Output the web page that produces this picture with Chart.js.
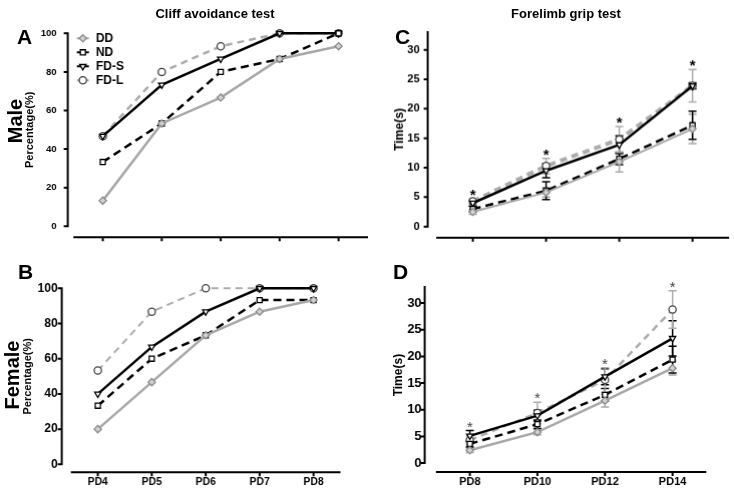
<!DOCTYPE html>
<html>
<head>
<meta charset="utf-8">
<script src="https://cdn.jsdelivr.net/npm/chart.js@4.4.0/dist/chart.umd.min.js"></script>
<style>
  body { margin: 0; background: #fff; font-family: "Liberation Sans", Arial, sans-serif; }
  #wrap { position: relative; width: 734px; height: 493px; overflow: hidden; }
  .box { position: absolute; }
  .t { position: absolute; font-weight: bold; color: #000; white-space: nowrap; }
  .rot { transform: translate(-50%, -50%) rotate(-90deg); }
  .mid { transform: translate(-50%, -50%); }
</style>
</head>
<body>
<div id="wrap">
  <div class="box" style="left:0;top:20px;width:370px;height:225px"><canvas id="cA"></canvas></div>
  <div class="box" style="left:0;top:245px;width:370px;height:248px"><canvas id="cB"></canvas></div>
  <div class="box" style="left:370px;top:20px;width:364px;height:225px"><canvas id="cC"></canvas></div>
  <div class="box" style="left:370px;top:245px;width:364px;height:248px"><canvas id="cD"></canvas></div>
  <div class="t mid" style="left:215px;top:13px;font-size:13px">Cliff avoidance test</div>
  <div class="t mid" style="left:566px;top:13px;font-size:13px">Forelimb grip test</div>
  <div class="t" style="left:17px;top:25px;font-size:21px">A</div>
  <div class="t" style="left:18px;top:260px;font-size:21px">B</div>
  <div class="t" style="left:395px;top:25px;font-size:21px">C</div>
  <div class="t" style="left:393px;top:260px;font-size:21px">D</div>
  <div class="t rot" style="left:15px;top:121px;font-size:20px">Male</div>
  <div class="t rot" style="left:12px;top:375px;font-size:20px">Female</div>
</div>
<script>
  const groups = ['DD', 'ND', 'FD-S', 'FD-L'];
  const cliffDays = ['PD4', 'PD5', 'PD6', 'PD7', 'PD8'];
  const gripDays = ['PD8', 'PD10', 'PD12', 'PD14'];

  // cliff avoidance, % of pups passing
  const maleCliffDD = [13.3, 53.3, 66.7, 86.7, 93.3];
  const maleCliffND = [33.3, 53.3, 80, 86.7, 100];
  const maleCliffFDS = [46.7, 73.3, 86.7, 100, 100];
  const maleCliffFDL = [46.7, 80, 93.3, 100, 100];

  const femaleCliffDD = [20, 46.7, 73.3, 86.7, 93.3];
  const femaleCliffND = [33.3, 60, 73.3, 93.3, 93.3];
  const femaleCliffFDS = [40, 66.7, 86.7, 100, 100];
  const femaleCliffFDL = [53.3, 86.7, 100, 100, 100];

  // forelimb grip, seconds (mean and SEM)
  const maleGripDD = [2.5, 5.8, 11.0, 16.6];
  const maleGripDDErr = [0.4, 0.8, 1.7, 2.5];
  const maleGripND = [3.0, 6.1, 11.5, 17.2];
  const maleGripNDErr = [0.5, 1.5, 1.0, 2.4];
  const maleGripFDS = [4.0, 9.5, 13.9, 23.9];
  const maleGripFDSErr = [0.5, 1.2, 1.5, 0.5];
  const maleGripFDL = [4.3, 10.3, 14.8, 23.9];
  const maleGripFDLErr = [0.5, 1.3, 2.2, 2.75];

  const femaleGripDD = [2.4, 5.8, 11.7, 17.8];
  const femaleGripDDErr = [0.4, 0.5, 1.2, 1.3];
  const femaleGripND = [3.6, 7.3, 12.8, 19.4];
  const femaleGripNDErr = [0.6, 0.8, 1.2, 2.5];
  const femaleGripFDS = [5.1, 8.9, 16.2, 23.4];
  const femaleGripFDSErr = [1.0, 1.0, 1.5, 3.3];
  const femaleGripFDL = [4.3, 9.4, 15.6, 28.8];
  const femaleGripFDLErr = [0.8, 2.0, 2.3, 3.5];

  const maleGripSig = [true, true, true, true];
  const femaleGripSig = [true, true, true, true];

  Chart.defaults.font.family = '"Liberation Sans", Arial, sans-serif';
  Chart.defaults.font.weight = 'bold';
  Chart.defaults.color = '#000';

  const looks = {
    'DD': { borderColor: '#a8a8a8', pointStyle: 'rectRot', pointBackgroundColor: '#d2d2d2', pointBorderColor: '#8c8c8c', borderDash: [] },
    'ND': { borderColor: '#000', pointStyle: 'rect', pointBackgroundColor: '#fff', pointBorderColor: '#000', borderDash: [8, 5] },
    'FD-S': { borderColor: '#000', pointStyle: 'triangle', rotation: 180, pointBackgroundColor: '#fff', pointBorderColor: '#000', borderDash: [] },
    'FD-L': { borderColor: '#acacac', pointStyle: 'circle', pointBackgroundColor: '#fff', pointBorderColor: '#444', borderDash: [7, 5] },
  };

  function series(i, data, err, width) {
    const name = groups[i];
    const l = looks[name];
    return {
      label: name, data, err,
      borderColor: l.borderColor, borderDash: l.borderDash, borderWidth: width || 2.5,
      pointStyle: l.pointStyle, rotation: l.rotation || 0,
      pointBackgroundColor: l.pointBackgroundColor, pointBorderColor: l.pointBorderColor,
      pointBorderWidth: 1.3, pointRadius: 3.6, tension: 0, clip: false,
    };
  }

  // Prism-style detached axes
  const prismAxes = {
    id: 'prismAxes',
    afterDraw(chart, args, opts) {
      const { ctx, chartArea: a, scales: { x, y } } = chart;
      const yx = a.left - opts.yGap, xy = a.bottom + opts.xGap;
      ctx.save();
      ctx.strokeStyle = '#000';
      ctx.lineWidth = 2;
      ctx.beginPath();
      ctx.moveTo(yx, y.getPixelForValue(y.max) - 1);
      ctx.lineTo(yx, y.getPixelForValue(0) + 1);
      y.ticks.forEach((t) => {
        const p = y.getPixelForValue(t.value);
        ctx.moveTo(yx - 4, p);
        ctx.lineTo(yx, p);
      });
      ctx.moveTo(a.left, xy);
      ctx.lineTo(a.right, xy);
      x.ticks.forEach((t, i) => {
        const p = x.getPixelForTick(i);
        ctx.moveTo(p, xy);
        ctx.lineTo(p, xy + 4);
      });
      ctx.stroke();
      ctx.restore();
    },
  };

  const errorBars = {
    id: 'errorBars',
    beforeDatasetsDraw(chart) {
      const { ctx, scales: { x, y } } = chart;
      chart.data.datasets.forEach((ds) => {
        if (!ds.err) return;
        ctx.save();
        ctx.strokeStyle = ds.borderColor;
        ctx.lineWidth = 1.5;
        ctx.beginPath();
        ds.data.forEach((v, i) => {
          const px = x.getPixelForValue(i);
          const hi = y.getPixelForValue(v + ds.err[i]);
          const lo = y.getPixelForValue(v - ds.err[i]);
          ctx.moveTo(px, hi); ctx.lineTo(px, lo);
          ctx.moveTo(px - 4, hi); ctx.lineTo(px + 4, hi);
          ctx.moveTo(px - 4, lo); ctx.lineTo(px + 4, lo);
        });
        ctx.stroke();
        ctx.restore();
      });
    },
    afterDatasetsDraw(chart, args, opts) {
      if (!opts.sig) return;
      const { ctx, scales: { x, y } } = chart;
      ctx.save();
      ctx.fillStyle = opts.color || '#000';
      ctx.font = opts.font;
      ctx.textAlign = 'center';
      ctx.textBaseline = 'alphabetic';
      opts.sig.forEach((s, i) => {
        if (!s) return;
        let top = Infinity;
        chart.data.datasets.forEach((ds) => {
          const e = ds.err ? ds.err[i] : 0;
          top = Math.min(top, y.getPixelForValue(ds.data[i] + e));
        });
        ctx.fillText('*', x.getPixelForValue(i), top + 1);
      });
      ctx.restore();
    },
  };

  // legend with a short line through each symbol, inside the plot
  const lineLegend = {
    id: 'lineLegend',
    afterDatasetsDraw(chart, args, opts) {
      if (!opts.show) return;
      const { ctx, chartArea: a } = chart;
      chart.data.datasets.forEach((ds, i) => {
        const cx = a.left + 9.5, cy = a.top + 5 + i * 14;
        ctx.save();
        ctx.strokeStyle = ds.borderColor;
        ctx.lineWidth = 2;
        ctx.beginPath();
        ctx.moveTo(cx - 6, cy);
        ctx.lineTo(cx + 6, cy);
        ctx.stroke();
        ctx.fillStyle = ds.pointBackgroundColor;
        ctx.strokeStyle = ds.pointBorderColor;
        ctx.lineWidth = 1.3;
        Chart.helpers.drawPoint(ctx, { pointStyle: ds.pointStyle, rotation: ds.rotation, radius: 3.6, borderWidth: 1.3 }, cx, cy);
        ctx.fillStyle = '#000';
        ctx.font = 'bold 12px "Liberation Sans", Arial';
        ctx.textAlign = 'left';
        ctx.textBaseline = 'middle';
        ctx.fillText(ds.label, cx + 13, cy + 0.5);
        ctx.restore();
      });
    },
  };

  // p.area is the wanted plot area in page pixels; the canvas is moved and sized around it
  function panel(id, p) {
    const canvas = document.getElementById(id);
    const holder = canvas.parentNode;
    const yWidth = p.area.left - p.titleX + 10.6;

    const chart = new Chart(canvas, {
      type: 'line',
      data: { labels: p.labels, datasets: p.datasets },
      plugins: [prismAxes, errorBars, lineLegend],
      options: {
        responsive: true,
        maintainAspectRatio: false,
        animation: false,
        layout: { padding: 0 },
        scales: {
          x: {
            offset: true,
            grid: { display: false, drawTicks: false },
            border: { display: false },
            ticks: { display: p.showX, padding: p.xLabelPad, font: { size: p.xFont, weight: 'bold' }, maxRotation: 0 },
          },
          y: {
            min: 0, max: p.yMax,
            grid: { display: false, drawTicks: false },
            border: { display: false },
            ticks: { stepSize: p.yStep, padding: p.yGap + p.yLabelGap, font: { size: p.yFont, weight: 'bold' } },
            afterBuildTicks: (s) => { s.ticks = s.ticks.filter((t) => t.value % p.yStep === 0); },
            afterFit: (s) => { s.width = yWidth; },
            title: { display: true, text: p.yTitle, font: { size: p.yTitleSize, weight: 'bold' }, padding: { top: 4, bottom: 4 } },
          },
        },
        plugins: {
          legend: { display: false },
          tooltip: { enabled: false },
          prismAxes: { yGap: p.yGap, xGap: p.xGap },
          errorBars: { sig: p.sig, color: p.starColor, font: p.starFont },
          lineLegend: { show: !!p.legend },
        },
      },
    });

    for (let k = 0; k < 3; k++) {
      const a = chart.chartArea;
      const L = a.left, T = a.top, R = chart.width - a.right, B = chart.height - a.bottom;
      holder.style.left = (p.area.left - L) + 'px';
      holder.style.top = (p.area.top - T) + 'px';
      holder.style.width = (p.area.right - p.area.left + L + R) + 'px';
      holder.style.height = (p.area.bottom - p.area.top + T + B) + 'px';
      chart.resize();
    }
    return chart;
  }

  panel('cA', {
    area: { left: 73.6, right: 367.4, top: 33, bottom: 226 },
    yGap: 5.6, xGap: 11, yLabelGap: 11, yFont: 9.5, xFont: 10, xLabelPad: 12,
    titleX: 30, yTitle: 'Percentage(%)', yTitleSize: 11,
    yMax: 100, yStep: 20, showX: false, legend: true, labels: cliffDays,
    datasets: [
      series(0, maleCliffDD), series(1, maleCliffND),
      series(2, maleCliffFDS), series(3, maleCliffFDL),
    ],
  });

  panel('cB', {
    area: { left: 71.1, right: 339.9, top: 288, bottom: 464 },
    yGap: 9.1, xGap: 8, yLabelGap: 4, yFont: 12, xFont: 10.3, xLabelPad: 12,
    titleX: 28, yTitle: 'Percentage(%)', yTitleSize: 11,
    yMax: 100, yStep: 20, showX: true, legend: false, labels: cliffDays,
    datasets: [
      series(0, femaleCliffDD), series(1, femaleCliffND),
      series(2, femaleCliffFDS), series(3, femaleCliffFDL, null, 2),
    ],
  });

  panel('cC', {
    area: { left: 436.5, right: 728.5, top: 32.4, bottom: 226 },
    yGap: 8.5, xGap: 11, yLabelGap: 8, yFont: 11, xFont: 10, xLabelPad: 12,
    titleX: 399, yTitle: 'Time(s)', yTitleSize: 12,
    yMax: 33, yStep: 5, showX: false, legend: false, labels: gripDays,
    sig: maleGripSig, starColor: '#000', starFont: 'bold 15px "Liberation Sans", Arial',
    datasets: [
      series(0, maleGripDD, maleGripDDErr, 2), series(1, maleGripND, maleGripNDErr),
      series(2, maleGripFDS, maleGripFDSErr), series(3, maleGripFDL, maleGripFDLErr, 4),
    ],
  });

  panel('cD', {
    area: { left: 436.3, right: 705.7, top: 287, bottom: 463 },
    yGap: 11.3, xGap: 9, yLabelGap: 3, yFont: 13, xFont: 11, xLabelPad: 12.5,
    titleX: 398, yTitle: 'Time(s)', yTitleSize: 12,
    yMax: 33, yStep: 5, showX: true, legend: false, labels: gripDays,
    sig: femaleGripSig, starColor: '#444', starFont: '15px "Liberation Sans", Arial',
    datasets: [
      series(0, femaleGripDD, femaleGripDDErr), series(1, femaleGripND, femaleGripNDErr),
      series(2, femaleGripFDS, femaleGripFDSErr), series(3, femaleGripFDL, femaleGripFDLErr),
    ],
  });
</script>
</body>
</html>
